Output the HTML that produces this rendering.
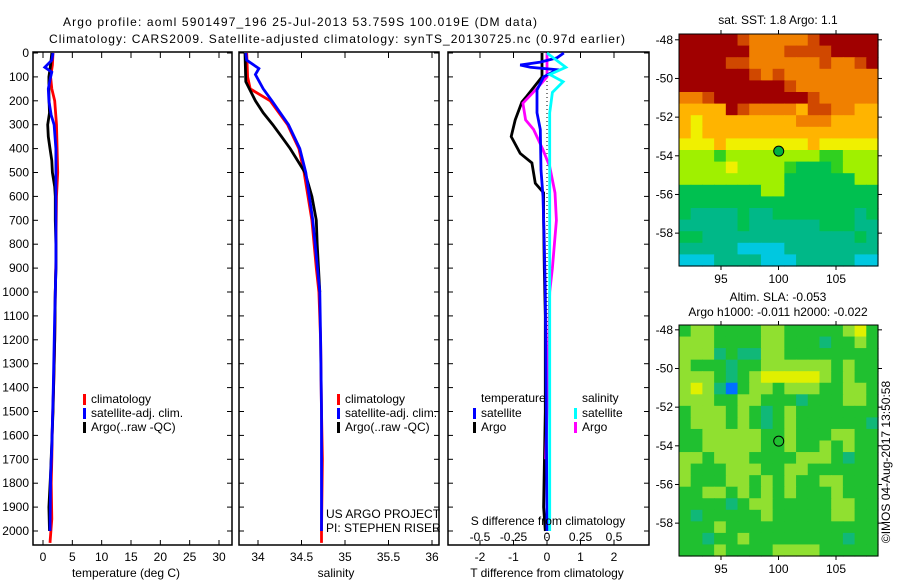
<!DOCTYPE html>
<html><head><meta charset="utf-8"><style>
body{margin:0;background:#fff;}
svg{display:block;font-family:"Liberation Sans",sans-serif;}
text{font-size:12px;fill:#000;}
</style></head><body>
<svg id="c" width="900" height="580" viewBox="0 0 900 580"></svg>
<script>
// ---------- data ----------
const depthTicks=[0,100,200,300,400,500,600,700,800,900,1000,1100,1200,1300,1400,1500,1600,1700,1800,1900,2000];
const tTicks=[0,5,10,15,20,25,30];
const sTicks=[34,34.5,35,35.5,36];
const dtTicks=[-2,-1,0,1,2];
const dsTicks=[-0.5,-0.25,0,0.25,0.5];
const dsTickLabels=["-0.5","-0.25","0","0.25","0.5"];
const lonTicks=[95,100,105];
const latTicks=[-48,-50,-52,-54,-56,-58];

const tClimDepth=[0,50,100,150,200,300,400,500,600,800,870,1000,1200,1400,1550,1700,1800,1950,2050];
const tClimVal=[1.7,1.6,1.3,1.5,2.0,2.3,2.4,2.5,2.3,2.2,2.2,2.1,2.0,1.8,1.6,1.5,1.4,1.5,1.2];
const tSatDepth=[0,30,60,80,100,150,200,260,300,400,500,700,900,1100,1400,1550,1650,1770,1900,2000];
const tSatVal=[1.7,1.5,0.3,1.5,1.3,0.9,1.0,1.4,1.9,2.2,2.2,2.2,2.2,2.0,1.75,1.6,1.5,1.3,1.25,1.2];
const tArgoDepth=[0,50,100,180,250,300,350,400,450,500,560,600,700,800,900,1000,1200,1500,1760,1900,2000];
const tArgoVal=[1.5,1.3,1.0,1.0,1.1,0.8,0.9,1.2,1.5,1.6,2.0,2.1,2.1,2.2,2.2,2.1,2.0,1.7,1.3,1.0,1.1];

const sClimDepth=[0,100,150,200,300,400,500,700,900,1000,1200,1500,1700,2000,2050];
const sClimVal=[33.87,33.88,33.91,34.14,34.34,34.47,34.53,34.62,34.67,34.70,34.72,34.73,34.74,34.73,34.73];
const sSatDepth=[0,30,65,90,150,200,300,400,500,700,1000,1200,1500,2000];
const sSatVal=[33.86,33.87,34.01,33.97,34.06,34.16,34.35,34.48,34.55,34.63,34.71,34.72,34.73,34.73];
const sArgoDepth=[0,120,200,250,300,350,400,500,600,700,800,1000];
const sArgoVal=[33.85,33.86,33.97,34.06,34.17,34.27,34.37,34.54,34.62,34.67,34.68,34.71];

const dTSatDepth=[0,20,38,50,60,70,100,155,250,320,490,600,800,1000,1500,2000];
const dTSatVal=[0.5,0.3,-0.2,-0.8,-0.5,0.3,-0.1,-0.3,-0.3,-0.2,-0.18,-0.12,-0.08,-0.05,-0.02,0];
const dTArgoDepth=[0,100,180,205,280,350,420,460,545,585,700,900,1100,1500,1900,2000];
const dTArgoVal=[-0.15,-0.15,-0.6,-0.75,-0.95,-1.07,-0.8,-0.45,-0.35,-0.1,-0.1,-0.08,-0.05,-0.05,-0.1,-0.05];
const dSSatDepth=[0,60,90,120,165,250,500,1000,1500,2000];
const dSSatVal=[0,0.14,0.02,0.12,0.04,0.02,0.02,0.02,0.02,0.02];
const dSArgoDepth=[0,100,145,210,280,320,405,475,585,700,900,1000,1500,1700];
const dSArgoVal=[0,0,-0.07,-0.18,-0.16,-0.1,-0.03,0.02,0.06,0.07,0.04,0.02,0.0,-0.01];

const sstRows=["99999877777899999","99999977788889999","99998877777787789","99999987877777777","99999999987777777","77899999999877777","66669877776887766","65666666667776666","65666666666666666","55565555555655555","44434444444433444","44445444432223444","44444444422222244","22222224422222222","22222222222222222","21111211222222212","11111211111122211","22111111111111121","11111000011111111","00011110001111100"];
const slaRows=["34433334433333453","44433334433323343","44423224433333333","43332334444443433","44432345555543433","45420344344433443","44433443332333443","34443432343333333","34443432343333332","33444443343334433","33444443343343433","44344433334443233","43334443344333333","43334434343344333","33443434343334333","33332344333334433","32333334333334433","33343333333333333","33233433333333233","33343333444433333"];
const sstColors=["#00c8e0","#00b888","#00c050","#30d020","#a0f000","#f0f000","#ffb400","#f08000","#d04800","#a00000"];
const slaColors=["#0070ff","#00c8c8","#10b878","#20c030","#90e030","#e0f000","#f0c800"];
const argoLon=100.019, argoLat=-53.759;

// ---------- helpers ----------
const svg=document.getElementById('c');
const NS="http://www.w3.org/2000/svg";
function mk(tag,attrs,parent){const e=document.createElementNS(NS,tag);for(const k in attrs)e.setAttribute(k,attrs[k]);(parent||svg).appendChild(e);return e;}
function txt(s,x,y,anchor,extra){const t=mk('text',Object.assign({x:x,y:y,'text-anchor':anchor||'start'},extra||{}));t.textContent=s;return t;}
function lin(a,b,p,q){return v=>p+(v-a)/(b-a)*(q-p);}

const TOP=53, PB=545;
const yD=lin(0,2000,53,531);
const panels=[{x0:33,x1:232},{x0:239,x1:439},{x0:448,x1:649}];
const xT=lin(0,30,43,219), xS=lin(34,36,258,432), xDT=lin(0,2,547,614), xDS=lin(0,0.5,547,614);

function frame(p,name){
  const r=mk('rect',{x:p.x0,y:TOP-1,width:p.x1-p.x0,height:PB-TOP+1,fill:'none',stroke:'#000','stroke-width':1.5});
  
  
  depthTicks.forEach(d=>{mk('line',{x1:p.x0,x2:p.x0+5,y1:yD(d),y2:yD(d),stroke:'#000'});mk('line',{x1:p.x1,x2:p.x1-5,y1:yD(d),y2:yD(d),stroke:'#000'});});
}
function xticks(p,ticks,fx){ticks.forEach(v=>{const x=fx(v);mk('line',{x1:x,x2:x,y1:TOP-1,y2:TOP+5,stroke:'#000'});mk('line',{x1:x,x2:x,y1:PB,y2:PB-5,stroke:'#000'});});}
function series(ds,vs,fx,color,name){
  const pts=ds.map((d,i)=>fx(vs[i]).toFixed(1)+','+yD(d).toFixed(1)).join(' ');
  const pl=mk('polyline',{points:pts,fill:'none',stroke:color,'stroke-width':2.8,'stroke-linejoin':'miter'});
  
  
}
function legendEntry(x,y,color,label,name){
  const g=mk('g',{});
  
  
  mk('rect',{x:x,y:y-9,width:3,height:11,fill:color},g);
  const t=mk('text',{x:x+8,y:y},g);t.textContent=label;
}

// titles
const t1=txt('Argo profile: aoml 5901497_196 25-Jul-2013 53.759S 100.019E (DM data)',63,26,'start',{textLength:474,'font-size':'13.5'});

const t2=txt('Climatology: CARS2009. Satellite-adjusted climatology: synTS_20130725.nc (0.97d earlier)',49,43,'start',{textLength:576,'font-size':'13.5'});


// depth labels
depthTicks.forEach(d=>{const t=txt(String(d),29,yD(d)+4,'end');});

// panel 1 temperature
frame(panels[0],'temperature-panel');xticks(panels[0],tTicks,xT);
series(tClimDepth,tClimVal,xT,'#ff0000','temp-climatology-line');
series(tArgoDepth,tArgoVal,xT,'#000000','temp-argo-line');
series(tSatDepth,tSatVal,xT,'#0000ff','temp-satellite-line');
tTicks.forEach(v=>{const t=txt(String(v),xT(v),561,'middle');});
const xl1=txt('temperature (deg C)',126,577,'middle');
legendEntry(83,403,'#ff0000','climatology','legend-climatology');
legendEntry(83,417,'#0000ff','satellite-adj. clim.','legend-satellite-adj');
legendEntry(83,431,'#000000','Argo(..raw -QC)','legend-argo');

// panel 2 salinity
frame(panels[1],'salinity-panel');xticks(panels[1],sTicks,xS);
series(sClimDepth,sClimVal,xS,'#ff0000','sal-climatology-line');
series(sArgoDepth,sArgoVal,xS,'#000000','sal-argo-line');
series(sSatDepth,sSatVal,xS,'#0000ff','sal-satellite-line');
sTicks.forEach(v=>{const t=txt(String(v),xS(v),561,'middle');});
const xl2=txt('salinity',336,577,'middle');
legendEntry(337,403,'#ff0000','climatology','legend-climatology-2');
legendEntry(337,417,'#0000ff','satellite-adj. clim.','legend-satellite-adj-2');
legendEntry(337,431,'#000000','Argo(..raw -QC)','legend-argo-2');
const us=txt('US ARGO PROJECT',326,518);
const pi=txt('PI: STEPHEN RISER',326,532);

// panel 3 differences
frame(panels[2],'difference-panel');xticks(panels[2],dtTicks,xDT);
mk('line',{x1:547,x2:547,y1:TOP,y2:PB,stroke:'#000','stroke-dasharray':'1,3'});
series(dTArgoDepth,dTArgoVal,xDT,'#000000','dT-argo-line');
series(dSArgoDepth,dSArgoVal,xDS,'#ff00ff','dS-argo-line');
series(dTSatDepth,dTSatVal,xDT,'#0000ff','dT-satellite-line');
series(dSSatDepth,dSSatVal,xDS,'#00ffff','dS-satellite-line');
dtTicks.forEach(v=>{const t=txt(String(v),xDT(v),561,'middle');});
dsTicks.forEach((v,i)=>{const t=txt(dsTickLabels[i],xDS(v),541,'middle');});
const sdl=txt('S difference from climatology',548,525,'middle');
const tdl=txt('T difference from climatology',547,577,'middle');
const lt=txt('temperature',481,402);
const ls=txt('salinity',582,402);
legendEntry(473,417,'#0000ff','satellite','legend-t-satellite');
legendEntry(473,431,'#000000','Argo','legend-t-argo');
legendEntry(574,417,'#00ffff','satellite','legend-s-satellite');
legendEntry(574,431,'#ff00ff','Argo','legend-s-argo');

// maps
function map(rows,colors,x0,x1,y0,y1,latTop,latBot,name,markerFill){
  const g=mk('g',{});
  
  
  const nr=rows.length,nc=rows[0].length,cw=(x1-x0)/nc,ch=(y1-y0)/nr;
  rows.forEach((r,i)=>{for(let j=0;j<nc;j++){mk('rect',{x:(x0+j*cw).toFixed(2),y:(y0+i*ch).toFixed(2),width:(cw+0.6).toFixed(2),height:(ch+0.6).toFixed(2),fill:colors[+r[j]]},g);}});
  mk('rect',{x:x0,y:y0,width:x1-x0,height:y1-y0,fill:'none',stroke:'#000','stroke-width':1},g);
  const fx=lin(91.35,108.65,x0,x1), fy=lin(latTop,latBot,y0,y1);
  lonTicks.forEach(v=>{mk('line',{x1:fx(v),x2:fx(v),y1:y1,y2:y1+4,stroke:'#000'},g);mk('line',{x1:fx(v),x2:fx(v),y1:y0,y2:y0-4,stroke:'#000'},g);const t=txt(String(v),fx(v),y1+17,'middle');});
  latTicks.forEach(v=>{mk('line',{x1:x0,x2:x0-4,y1:fy(v),y2:fy(v),stroke:'#000'},g);mk('line',{x1:x1,x2:x1+4,y1:fy(v),y2:fy(v),stroke:'#000'},g);const t=txt(String(v),x0-6,fy(v)+4,'end');});
  const m=mk('circle',{cx:fx(argoLon),cy:fy(argoLat),r:5,fill:markerFill,stroke:'#000','stroke-width':1},g);
  
  
}
map(sstRows,sstColors,679,878,34,266,-47.7,-59.7,'sst-map','#00b040');
map(slaRows,slaColors,679,878,325,556,-47.75,-59.7,'sla-map','none');
const mt1=txt('sat. SST: 1.8 Argo: 1.1',778,24,'middle');
const mt2=txt('Altim. SLA: -0.053',778,301,'middle');
const mt3=txt('Argo h1000: -0.011 h2000: -0.022',778,316,'middle');
const cp=txt('©IMOS 04-Aug-2017 13:50:58',0,0,'middle',{transform:'translate(890,462) rotate(-90)'});

</script>
</body></html>
